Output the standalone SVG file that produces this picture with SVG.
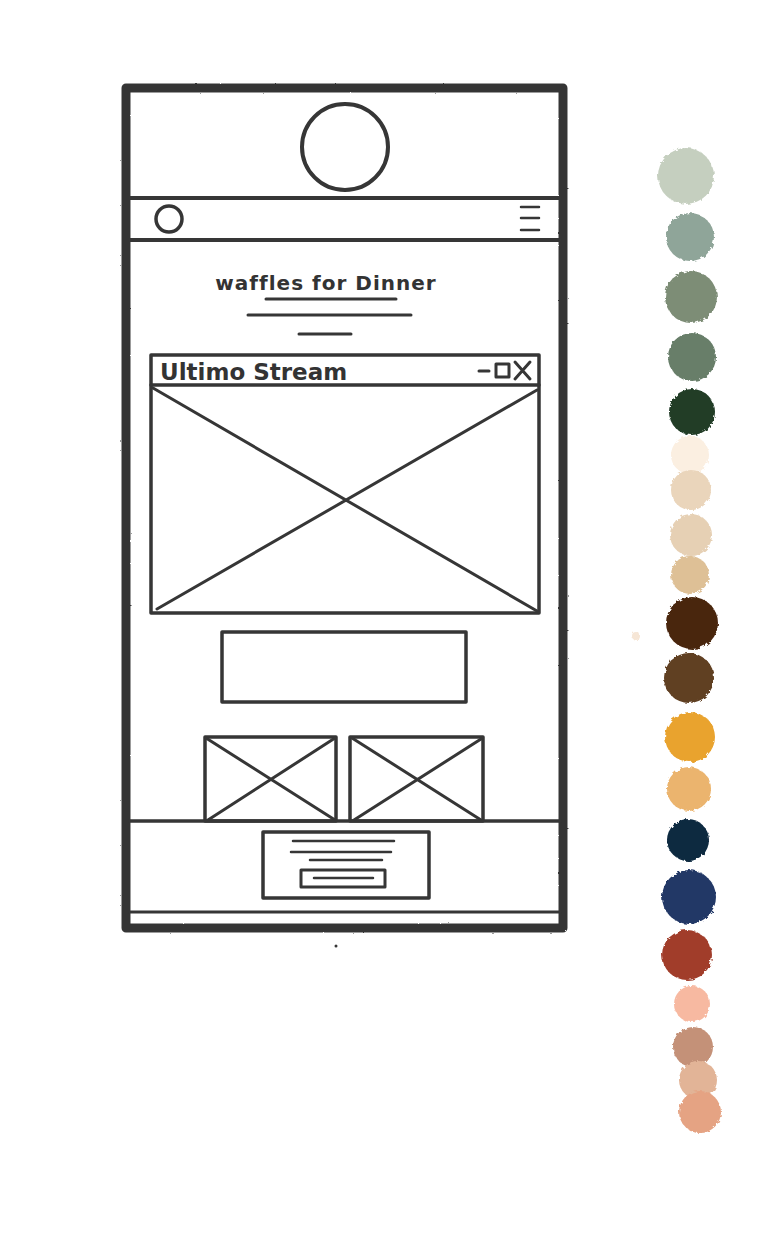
<svg xmlns="http://www.w3.org/2000/svg" width="761" height="1250" viewBox="0 0 761 1250">
<style>
.s{fill:none;stroke:#363636;stroke-linecap:round;stroke-linejoin:round}
.t{fill:#333333;font-family:"DejaVu Sans","Liberation Sans",sans-serif}
</style>
<defs>
<filter id="rough" x="-20%" y="-20%" width="140%" height="140%">
<feTurbulence type="fractalNoise" baseFrequency="0.25" numOctaves="2" seed="3"/>
<feDisplacementMap in="SourceGraphic" scale="4"/>
</filter>
<filter id="rough2" x="-5%" y="-5%" width="110%" height="110%">
<feTurbulence type="fractalNoise" baseFrequency="0.4" numOctaves="1" seed="5"/>
<feDisplacementMap in="SourceGraphic" scale="2"/>
</filter>
</defs>
<rect width="761" height="1250" fill="#ffffff"/>
<g id="phone">
<rect class="s" x="126" y="88" width="437" height="840" stroke-width="9" filter="url(#rough2)"/>
<line class="s" x1="130" y1="198" x2="560" y2="198" stroke-width="4"/>
<line class="s" x1="130" y1="240" x2="560" y2="240" stroke-width="4"/>
<circle class="s" cx="345" cy="147" r="43" stroke-width="4"/>
<circle class="s" cx="169" cy="219" r="13" stroke-width="3.5"/>
<path class="s" d="M521 207H539M521 218H539M521 230H539" stroke-width="2.5"/>
</g>
<g id="title">
<text class="t" x="326" y="290" font-size="20" text-anchor="middle" letter-spacing="1" font-weight="600">waffles for Dinner</text>
<path class="s" d="M266 299H396M248 315H411M299 334H351" stroke-width="3"/>
</g>
<g id="window">
<rect class="s" x="151" y="355" width="388" height="258" stroke-width="3.5"/>
<line class="s" x1="151" y1="385" x2="539" y2="385" stroke-width="3.5"/>
<text class="t" x="160" y="380" font-size="23" font-weight="600">Ultimo Stream</text>
<path class="s" d="M479 371H489" stroke-width="3"/>
<rect class="s" x="496" y="364" width="13" height="13" stroke-width="3"/>
<path class="s" d="M515 362L530 379M530 362L515 379" stroke-width="3"/>
<path class="s" d="M153 388L537 611M157 609L537 390" stroke-width="3"/>
</g>
<g id="banner">
<rect class="s" x="222" y="632" width="244" height="70" stroke-width="3.5"/>
</g>
<g id="thumbs">
<rect class="s" x="205" y="737" width="131" height="84" stroke-width="3.5"/>
<path class="s" d="M206 738L335 820M208 820L335 738" stroke-width="3"/>
<rect class="s" x="350" y="737" width="133" height="84" stroke-width="3.5"/>
<path class="s" d="M352 738L481 820M354 820L481 739" stroke-width="3"/>
</g>
<g id="footer">
<line class="s" x1="130" y1="821" x2="560" y2="821" stroke-width="3.5"/>
<rect class="s" x="263" y="832" width="166" height="66" stroke-width="3.5"/>
<path class="s" d="M293 841H394M291 852H391M310 860H382" stroke-width="2.5"/>
<rect class="s" x="301" y="870" width="84" height="17" stroke-width="3"/>
<path class="s" d="M314 878H373" stroke-width="2.5"/>
<line class="s" x1="130" y1="912" x2="560" y2="912" stroke-width="3"/>
<circle cx="336" cy="946" r="1.5" fill="#363636"/>
</g>
<g id="palette" filter="url(#rough)">
<circle cx="686" cy="176" r="28" fill="#c5cfbf"/>
<circle cx="690" cy="237" r="24" fill="#8fa599"/>
<circle cx="691" cy="297" r="26" fill="#7d8d76"/>
<circle cx="692" cy="357" r="24" fill="#677e69"/>
<circle cx="692" cy="412" r="23" fill="#213c27"/>
<circle cx="690" cy="455" r="19" fill="#fbefe1"/>
<circle cx="691" cy="490" r="20" fill="#ead5bb"/>
<circle cx="691" cy="535" r="21" fill="#e6d0b4"/>
<circle cx="690" cy="575" r="19" fill="#dec096"/>
<circle cx="692" cy="623" r="26" fill="#4a2611"/>
<circle cx="689" cy="678" r="25" fill="#603f23"/>
<circle cx="690" cy="737" r="25" fill="#e9a32f"/>
<circle cx="689" cy="789" r="22" fill="#ebb46e"/>
<circle cx="688" cy="840" r="21" fill="#0b2940"/>
<circle cx="689" cy="897" r="27" fill="#213766"/>
<circle cx="687" cy="955" r="25" fill="#a13e2b"/>
<circle cx="692" cy="1004" r="18" fill="#f7b9a1"/>
<circle cx="693" cy="1047" r="20" fill="#c49178"/>
<circle cx="698" cy="1080" r="19" fill="#e2b497"/>
<circle cx="700" cy="1112" r="21" fill="#e5a383"/>
<circle cx="636" cy="636" r="4" fill="#f6e6d6"/>
</g>
</svg>
